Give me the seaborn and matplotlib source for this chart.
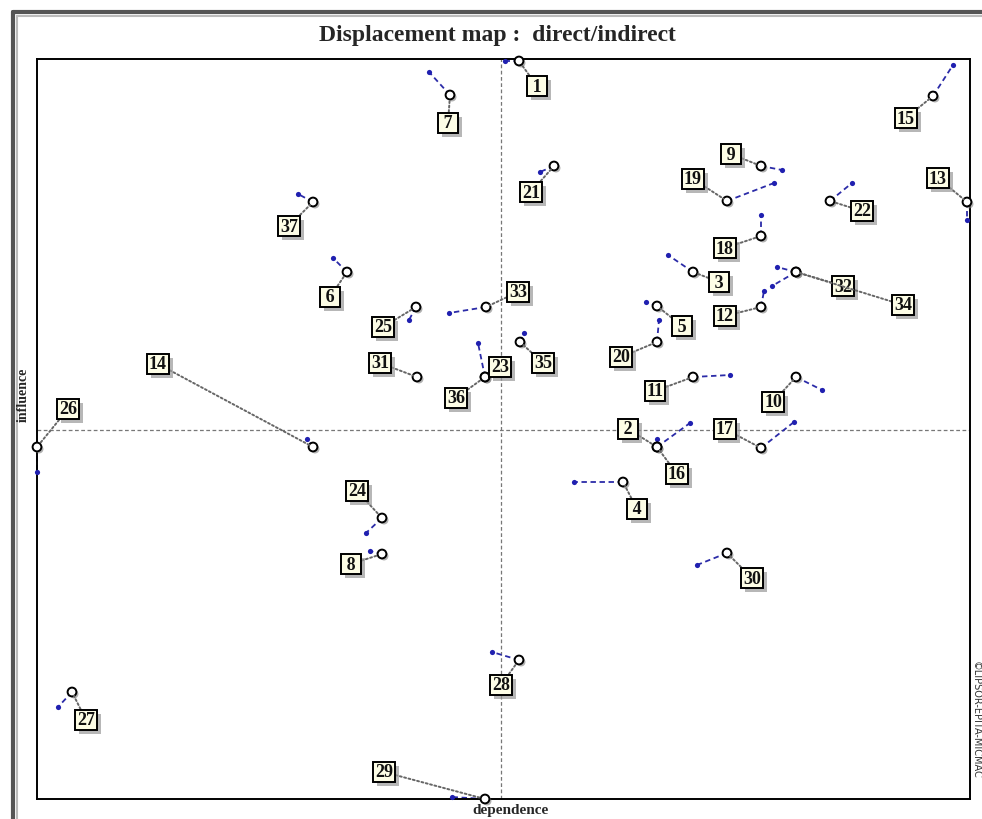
import numpy as np
import pandas as pd
import matplotlib
matplotlib.use("Agg")
import matplotlib.pyplot as plt
import matplotlib.patheffects as pe
from matplotlib.lines import Line2D
import seaborn as sns

# MICMAC displacement map: indirect position (open circle) -> direct position (blue dot)
variables = [str(i) for i in range(1, 38)]
indirect_dep = [482, 620, 656, 586, 620, 310, 413, 345, 724, 759, 656, 724, 930,
                276, 896, 620, 724, 724, 690, 620, 517, 793, 448, 345, 379, 0,
                35, 482, 448, 690, 380, 759, 449, 759, 483, 448, 276]
indirect_inf = [738, 352, 527, 317, 493, 527, 704, 245, 633, 422, 422, 492, 597,
                352, 703, 352, 351, 563, 598, 457, 633, 598, 422, 281, 492, 352,
                107, 139, 0, 246, 422, 527, 492, 527, 457, 422, 597]
direct_dep = [468, 620, 631, 537, 609, 296, 392, 333, 745, 785, 693, 727, 930,
              270, 916, 653, 757, 724, 737, 622, 503, 815, 441, 329, 372, 0,
              21, 455, 415, 660, 380, 740, 412, 735, 487, 448, 261]
direct_inf = [738, 360, 544, 317, 497, 541, 727, 248, 629, 409, 424, 508, 579,
              360, 734, 376, 377, 584, 616, 479, 627, 616, 456, 266, 479, 327,
              92, 147, 2, 234, 422, 532, 486, 513, 466, 422, 605]

# where each number box sits relative to its circle (pixels)
label_dx = [18, -29, 26, 14, 25, -17, -2, -31, -30, -23, -38, -36, -29,
            -155, -27, 20, -36, -36, -34, -36, -23, 32, 15, -25, -33, 31,
            14, -18, -101, 25, -37, 47, 32, 107, 23, -29, -24]
label_dy = [-25, 18, -10, -27, -20, -25, -28, -10, 12, -25, -14, -9, 24,
            83, -22, -27, 19, -12, 22, -15, -26, -10, 10, 27, -20, 38,
            -28, -25, 27, -25, 14, -14, 15, -33, -21, -21, -24]

x_mean = 464
y_mean = 369

df = pd.DataFrame({"var": variables,
                   "ind_x": indirect_dep, "ind_y": indirect_inf,
                   "dir_x": direct_dep, "dir_y": direct_inf,
                   "dx": label_dx, "dy": label_dy})

sns.set_style("white")
plt.rcParams["font.family"] = ["Liberation Serif", "DejaVu Serif"]

fig = plt.figure(figsize=(9.82, 8.2), dpi=100)
ax = fig.add_axes([37 / 982, 20 / 820, 933 / 982, 740 / 820])
ax.set_xlim(0, 933)
ax.set_ylim(0, 740)
ax.set_xticks([])
ax.set_yticks([])
for s in ax.spines.values():
    s.set_color("black")
    s.set_linewidth(1.4)

ax.axvline(x_mean, color="#777777", ls=(0, (3, 2)), lw=0.9, zorder=1)
ax.axhline(y_mean, color="#777777", ls=(0, (3, 2)), lw=0.9, zorder=1)

# displacement segments
for _, r in df.iterrows():
    ax.plot([r.ind_x, r.dir_x], [r.ind_y, r.dir_y], color="#2b2ba8",
            ls=(0, (3, 2)), lw=1.3, zorder=2, clip_on=False)

sns.scatterplot(data=df, x="dir_x", y="dir_y", color="#2020b0", s=14,
                linewidth=0, ax=ax, zorder=3, clip_on=False)
circ = sns.scatterplot(data=df, x="ind_x", y="ind_y", facecolor="white",
                       edgecolor="black", s=40, linewidth=1.4, ax=ax,
                       zorder=4, clip_on=False)
circ.collections[-1].set_path_effects([
    pe.SimplePatchShadow(offset=(1.5, -1.5), shadow_rgbFace="gray", alpha=0.6),
    pe.Normal()])

for _, r in df.iterrows():
    txt = r["var"] if len(r["var"]) > 1 else "\u2009" + r["var"] + "\u2009"
    ann = ax.annotate(txt, xy=(r.ind_x, r.ind_y), xytext=(r.dx, r.dy),
                      textcoords="offset pixels", ha="center", va="center",
                      fontsize=13, fontweight="bold", color="#111111",
                      zorder=5, annotation_clip=False,
                      bbox=dict(boxstyle="square,pad=0.1", fc="#fdfde6",
                                ec="black", lw=1.4),
                      arrowprops=dict(arrowstyle="-", ls=(0, (1, 1.3)),
                                      color="#666666", lw=1.4,
                                      shrinkA=0, shrinkB=3))
    ann.get_bbox_patch().set_path_effects([
        pe.SimplePatchShadow(offset=(3, -3), shadow_rgbFace="#999999", alpha=0.7),
        pe.Normal()])

ax.set_xlabel("")
ax.set_ylabel("")

fig.text(497 / 982, 1 - 35 / 820, "Displacement map :  direct/indirect",
         ha="center", va="center", fontsize=17, fontweight="bold")
fig.text(510 / 982, 1 - 811 / 820, "dependence", ha="center", va="center",
         fontsize=11, fontweight="bold")
fig.text(23 / 982, 1 - 395 / 820, "influence", ha="center", va="center",
         rotation=90, fontsize=10, fontweight="bold")
fig.text(976 / 982, 1 - 720 / 820, "\u00a9LIPSOR-EPITA-MICMAC", ha="center",
         va="center", rotation=-90, fontsize=7, family="DejaVu Sans",
         color="#333333")

# outer window frame
fig.add_artist(Line2D([13 / 982, 13 / 982], [0, 1 - 13 / 820], color="#555555",
                      lw=3, transform=fig.transFigure))
fig.add_artist(Line2D([13 / 982, 1], [1 - 13 / 820, 1 - 13 / 820], color="#555555",
                      lw=3, transform=fig.transFigure))
fig.add_artist(Line2D([16.5 / 982, 16.5 / 982], [0, 1 - 16.5 / 820], color="#bbbbbb",
                      lw=1.5, transform=fig.transFigure))
fig.add_artist(Line2D([16.5 / 982, 1], [1 - 16.5 / 820, 1 - 16.5 / 820], color="#bbbbbb",
                      lw=1.5, transform=fig.transFigure))

fig.savefig("out.png", dpi=100)
